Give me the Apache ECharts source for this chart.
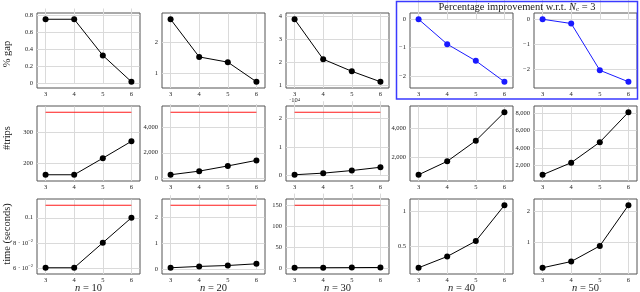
<!DOCTYPE html>
<html><head><meta charset="utf-8">
<script src="https://cdn.jsdelivr.net/npm/echarts@6/dist/echarts.min.js"></script>
<style>html,body{margin:0;padding:0;background:#fff}#c{width:640px;height:292px}</style>
</head><body><div id="c"></div>
<script>
// x categories: number of clusters N_c
const ncValues = [3, 4, 5, 6];
const columnNames = ['10', '20', '30', '40', '50'];
const rowNames = ['% gap', '#trips', 'time (seconds)'];

// Row 1: % gap (n=10,20,30) and percentage improvement (n=40,50)
const gap10 = [0.75, 0.75, 0.325, 0.015];
const gap20 = [2.75, 1.52, 1.35, 0.71];
const gap30 = [3.86, 2.14, 1.62, 1.17];
const improve40 = [0, -0.88, -1.47, -2.21];
const improve50 = [0, -0.17, -2.04, -2.5];

// Row 2: #trips
const trips10 = [163, 163, 216, 270];
const trips20 = [300, 580, 980, 1410];
const trips30 = [340, 900, 1800, 2940];
const trips40 = [773, 1705, 3136, 5114];
const trips50 = [963, 2333, 4667, 8074];
const tripsRef10 = 363;
const tripsRef20 = 5130;
const tripsRef30 = 22030;

// Row 3: time (seconds)
const time10 = [0.06, 0.06, 0.08, 0.1];
const time20 = [0.075, 0.125, 0.16, 0.225];
const time30 = [0.8, 0.9, 1.1, 1.5];
const time40 = [0.2, 0.36, 0.58, 1.09];
const time50 = [0.216, 0.41, 0.9, 2.175];
const timeRef10 = 0.11;
const timeRef20 = 2.45;
const timeRef30 = 150;

// y tick values
const yTicksGap10 = [0, 0.2, 0.4, 0.6, 0.8];
const yTicksGap20 = [1, 2];
const yTicksGap30 = [1, 2, 3, 4];
const yTicksImp40 = [-2, -1, 0];
const yTicksImp50 = [-2, -1, 0];
const yTicksTrips10 = [200, 300];
const yTicksTrips20 = [0, 2000, 4000];
const yTicksTrips30 = [0, 10000, 20000];
const yTicksTrips40 = [2000, 4000];
const yTicksTrips50 = [2000, 4000, 6000, 8000];
const yTicksTime10 = [0.06, 0.08, 0.1];
const yTicksTime20 = [0, 1, 2];
const yTicksTime30 = [0, 50, 100, 150];
const yTicksTime40 = [0.5, 1];
const yTicksTime50 = [1, 2];

const FONT = 'Liberation Serif';
const TFS = 6.5;
const TCOL = '#222';
const colLeft = [37, 162, 286, 410, 534];
const rowTop = [13, 106, 199];
const PW = 103, PH = 75;

function fmtNum(v) {
  let s;
  if (Math.abs(v) >= 1000) s = Math.abs(v).toLocaleString('en-US');
  else s = String(Math.abs(Math.round(v * 1000) / 1000));
  return (v < 0 ? '\u2212' : '') + s;
}
const fmtE4 = v => String(Math.round(v / 10000));
const fmtTime10 = v => Math.abs(v - 0.1) < 1e-9 ? '0.1' : '{b|' + Math.round(v * 100) + ' \u00b7 10}{s|\u22122}';

const panels = [
  {r: 0, c: 0, d: gap10, t: yTicksGap10},
  {r: 0, c: 1, d: gap20, t: yTicksGap20},
  {r: 0, c: 2, d: gap30, t: yTicksGap30},
  {r: 0, c: 3, d: improve40, t: yTicksImp40, blue: true},
  {r: 0, c: 4, d: improve50, t: yTicksImp50, blue: true},
  {r: 1, c: 0, d: trips10, t: yTicksTrips10, ref: tripsRef10},
  {r: 1, c: 1, d: trips20, t: yTicksTrips20, ref: tripsRef20},
  {r: 1, c: 2, d: trips30, t: yTicksTrips30, ref: tripsRef30, f: fmtE4},
  {r: 1, c: 3, d: trips40, t: yTicksTrips40},
  {r: 1, c: 4, d: trips50, t: yTicksTrips50},
  {r: 2, c: 0, d: time10, t: yTicksTime10, ref: timeRef10, f: fmtTime10},
  {r: 2, c: 1, d: time20, t: yTicksTime20, ref: timeRef20},
  {r: 2, c: 2, d: time30, t: yTicksTime30, ref: timeRef30},
  {r: 2, c: 3, d: time40, t: yTicksTime40},
  {r: 2, c: 4, d: time50, t: yTicksTime50}
];

const grid = [], xAxis = [], yAxis = [], series = [];
panels.forEach((p, i) => {
  const vals = p.ref != null ? p.d.concat([p.ref]) : p.d;
  const lo = Math.min(...vals), hi = Math.max(...vals), pad = (hi - lo) * 0.1;
  grid.push({left: colLeft[p.c], top: rowTop[p.r], width: PW, height: PH,
    show: true, borderColor: '#555', borderWidth: 1, backgroundColor: 'transparent', z: 0});
  xAxis.push({type: 'value', gridIndex: i, min: 2.7, max: 6.3,
    axisLine: {show: false}, splitLine: {show: false},
    axisTick: {show: true, customValues: ncValues, inside: true, length: PH - 0.5, lineStyle: {color: '#dadada', width: 1}},
    axisLabel: {show: true, customValues: ncValues, fontFamily: FONT, fontSize: TFS, color: TCOL, margin: 2.5}});
  yAxis.push({type: 'value', gridIndex: i, min: lo - pad, max: hi + pad,
    axisLine: {show: false}, splitLine: {show: false},
    axisTick: {show: true, customValues: p.t, inside: true, length: PW - 0.5, lineStyle: {color: '#dadada', width: 1}},
    axisLabel: {show: true, customValues: p.t, fontFamily: FONT, fontSize: TFS, color: TCOL, margin: 4,
      formatter: p.f || fmtNum,
      rich: {b: {fontFamily: FONT, fontSize: TFS, color: TCOL, lineHeight: 9, verticalAlign: 'bottom'},
             s: {fontFamily: FONT, fontSize: 4.5, color: TCOL, lineHeight: 5, verticalAlign: 'top'}}}});
  if (p.ref != null) {
    series.push({type: 'line', xAxisIndex: i, yAxisIndex: i, symbol: 'none',
      data: [[ncValues[0], p.ref], [ncValues[ncValues.length - 1], p.ref]],
      lineStyle: {color: '#ff1a1a', width: 1.2}, silent: true, z: 3});
  }
  const col = p.blue ? '#1a1aff' : '#000';
  series.push({type: 'line', xAxisIndex: i, yAxisIndex: i, symbol: 'circle', symbolSize: 6,
    data: ncValues.map((x, k) => [x, p.d[k]]),
    itemStyle: {color: col}, lineStyle: {color: col, width: 1}, silent: true, z: 4});
});

const graphic = [];
graphic.push({type: 'rect', shape: {x: 396.5, y: 1.5, width: 241, height: 97.5},
  style: {fill: 'none', stroke: '#3a3aff', lineWidth: 1.5}, z: 10});
graphic.push({type: 'text', x: 517, y: 7, z: 10, style: {
  text: 'Percentage improvement w.r.t. {i|N}{sub|c} = 3', align: 'center', verticalAlign: 'middle',
  font: '10.5px "' + FONT + '"', fill: '#222',
  rich: {i: {fontFamily: FONT, fontSize: 10.5, fontStyle: 'italic', fill: '#222', lineHeight: 12},
         sub: {fontFamily: FONT, fontSize: 7, fill: '#222', lineHeight: 7, verticalAlign: 'bottom'}}}});
const rowCenters = [54, 138, 234];
rowNames.forEach((name, r) => {
  graphic.push({type: 'text', x: 7, y: rowCenters[r], rotation: Math.PI / 2, z: 10, style: {
    text: name, align: 'center', verticalAlign: 'middle', font: '10.5px "' + FONT + '"', fill: '#222'}});
});
columnNames.forEach((name, c) => {
  graphic.push({type: 'text', x: colLeft[c] + PW / 2, y: 288, z: 10, style: {
    text: '{i|n} = ' + name, align: 'center', verticalAlign: 'middle', font: '10.5px "' + FONT + '"', fill: '#222',
    rich: {i: {fontFamily: FONT, fontSize: 10.5, fontStyle: 'italic', fill: '#222'}}}});
});
graphic.push({type: 'text', x: 289, y: 100.5, z: 10, style: {
  text: '\u00b710{s|4}', align: 'left', verticalAlign: 'middle', font: '6.5px "' + FONT + '"', fill: TCOL,
  rich: {s: {fontFamily: FONT, fontSize: 4.5, fill: TCOL, lineHeight: 5, verticalAlign: 'top'}}}});

const chart = echarts.init(document.getElementById('c'), null, {renderer: 'canvas'});
chart.setOption({animation: false, grid, xAxis, yAxis, series, graphic});
</script></body></html>
